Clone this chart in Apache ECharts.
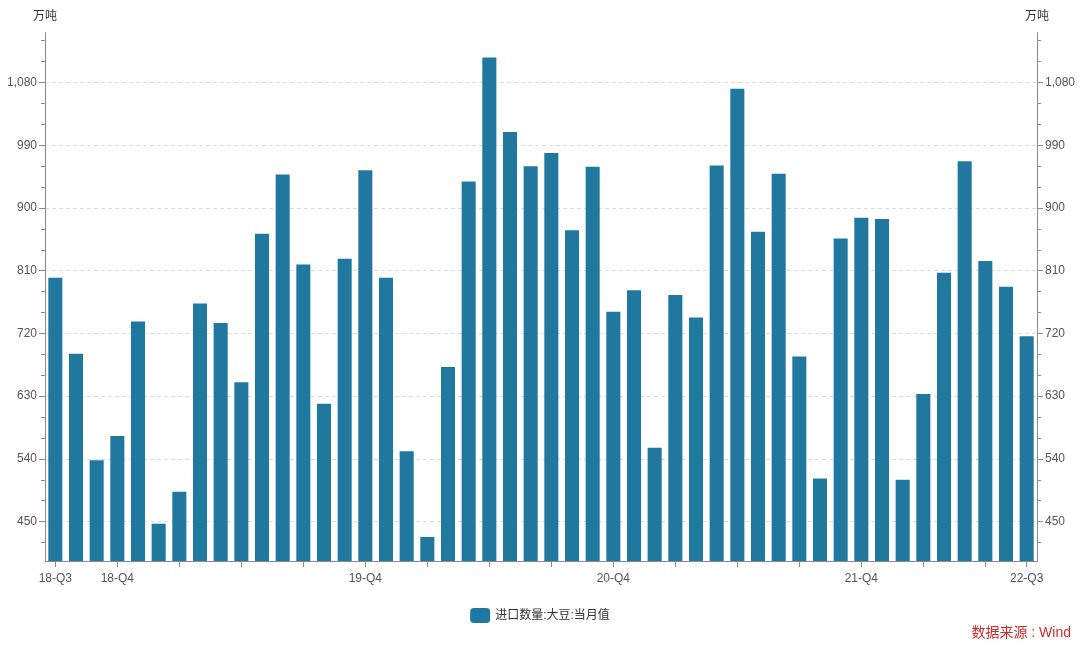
<!DOCTYPE html>
<html>
<head>
<meta charset="utf-8">
<title>进口数量:大豆:当月值</title>
<script src="https://cdn.jsdelivr.net/npm/echarts@6/dist/echarts.min.js"></script>
<style>
  html, body { margin: 0; padding: 0; background: #fff; }
  #chart { width: 1080px; height: 646px; }
</style>
</head>
<body>
<div id="chart"></div>
<script>
// Monthly categories, Sep 2018 – Aug 2022
const months = [
  '2018-09','2018-10','2018-11','2018-12',
  '2019-01','2019-02','2019-03','2019-04','2019-05','2019-06','2019-07','2019-08','2019-09','2019-10','2019-11','2019-12',
  '2020-01','2020-02','2020-03','2020-04','2020-05','2020-06','2020-07','2020-08','2020-09','2020-10','2020-11','2020-12',
  '2021-01','2021-02','2021-03','2021-04','2021-05','2021-06','2021-07','2021-08','2021-09','2021-10','2021-11','2021-12',
  '2022-01','2022-02','2022-03','2022-04','2022-05','2022-06','2022-07','2022-08'
];

// Soybean imports, monthly value (10k tonnes)
const soybeanImports = [
  800, 691, 538, 573,
  737, 447, 493, 763, 735, 650, 863, 948, 819, 619, 827, 954,
  800, 551, 428, 672, 938, 1116, 1009, 960, 979, 868, 959, 751,
  782, 556, 775, 743, 961, 1071, 866, 949, 687, 512, 856, 886,
  884, 510, 633, 807, 967, 824, 787, 716
];

// Quarter labels on the category axis and the months they sit on
const quarterLabels = ['18-Q3', '18-Q4', '19-Q4', '20-Q4', '21-Q4', '22-Q3'];
const quarterLabelMonths = ['2018-09', '2018-12', '2019-12', '2020-12', '2021-12', '2022-08'];

// Value-axis ticks
const majorTicks = [450, 540, 630, 720, 810, 900, 990, 1080];
const minorTicks = [420, 450, 480, 510, 540, 570, 600, 630, 660, 690, 720, 750, 780, 810,
                    840, 870, 900, 930, 960, 990, 1020, 1050, 1080, 1110, 1140];
const yMin = 393.5;
const yMax = 1151;

const seriesName = '进口数量:大豆:当月值';
const barColor = '#21789f';
const textColor = '#555';
const axisColor = '#8a8a8a';
const numFont = '"Liberation Sans", Arial, sans-serif';
const cjkFont = '"Liberation Sans", "Noto Sans CJK SC", sans-serif';

const fmt = v => Math.round(v).toLocaleString('en-US');

function majorAxis(position, withName) {
  return {
    type: 'value',
    position: position,
    min: yMin,
    max: yMax,
    name: withName ? '万吨' : '',
    nameLocation: 'end',
    nameGap: 10,
    nameTextStyle: { color: '#333', fontSize: 12, fontFamily: cjkFont },
    axisLine: { show: true, lineStyle: { color: axisColor, width: 1 } },
    axisTick: { show: true, customValues: majorTicks, length: 6, lineStyle: { color: axisColor } },
    axisLabel: {
      show: true, customValues: majorTicks, formatter: fmt, margin: 8,
      color: textColor, fontSize: 12, fontFamily: numFont
    },
    splitLine: {
      show: position === 'left',
      lineStyle: { color: '#dcdcdc', type: [4, 3], width: 1 }
    }
  };
}

function minorAxis(position) {
  return {
    type: 'value',
    position: position,
    min: yMin,
    max: yMax,
    axisLine: { show: true, lineStyle: { color: axisColor, width: 1 } },
    axisTick: { show: true, customValues: minorTicks, length: 4, lineStyle: { color: axisColor } },
    axisLabel: { show: false },
    splitLine: { show: false }
  };
}

const chart = echarts.init(document.getElementById('chart'), null, { renderer: 'canvas' });

chart.setOption({
  backgroundColor: '#ffffff',
  animation: false,
  grid: { left: 45, right: 43, top: 33, bottom: 85, containLabel: false },
  legend: {
    data: [seriesName],
    left: 'center',
    top: 603,
    itemWidth: 20,
    itemHeight: 15,
    itemGap: 10,
    icon: 'roundRect',
    textStyle: { color: '#333', fontSize: 12, fontFamily: cjkFont }
  },
  graphic: [{
    type: 'text',
    right: 9,
    top: 626,
    style: {
      text: '数据来源 : Wind',
      fill: '#d42a2a',
      fontSize: 14,
      fontFamily: cjkFont
    }
  }],
  xAxis: {
    type: 'category',
    data: months,
    boundaryGap: true,
    axisLine: { show: true, lineStyle: { color: axisColor, width: 1 } },
    axisTick: {
      show: true,
      alignWithLabel: true,
      length: 6,
      interval: (i) => i % 3 === 0 || i === months.length - 1,
      lineStyle: { color: axisColor }
    },
    axisLabel: {
      interval: (i, v) => quarterLabelMonths.indexOf(v) >= 0,
      formatter: (v) => {
        const k = quarterLabelMonths.indexOf(v);
        return k >= 0 ? quarterLabels[k] : '';
      },
      color: textColor,
      fontSize: 12,
      fontFamily: numFont,
      margin: 12
    },
    splitLine: { show: false }
  },
  yAxis: [
    majorAxis('left', true),
    minorAxis('left'),
    majorAxis('right', true),
    minorAxis('right')
  ],
  series: [{
    name: seriesName,
    type: 'bar',
    yAxisIndex: 0,
    data: soybeanImports,
    barCategoryGap: '32%',
    itemStyle: { color: barColor }
  }]
});
</script>
</body>
</html>
